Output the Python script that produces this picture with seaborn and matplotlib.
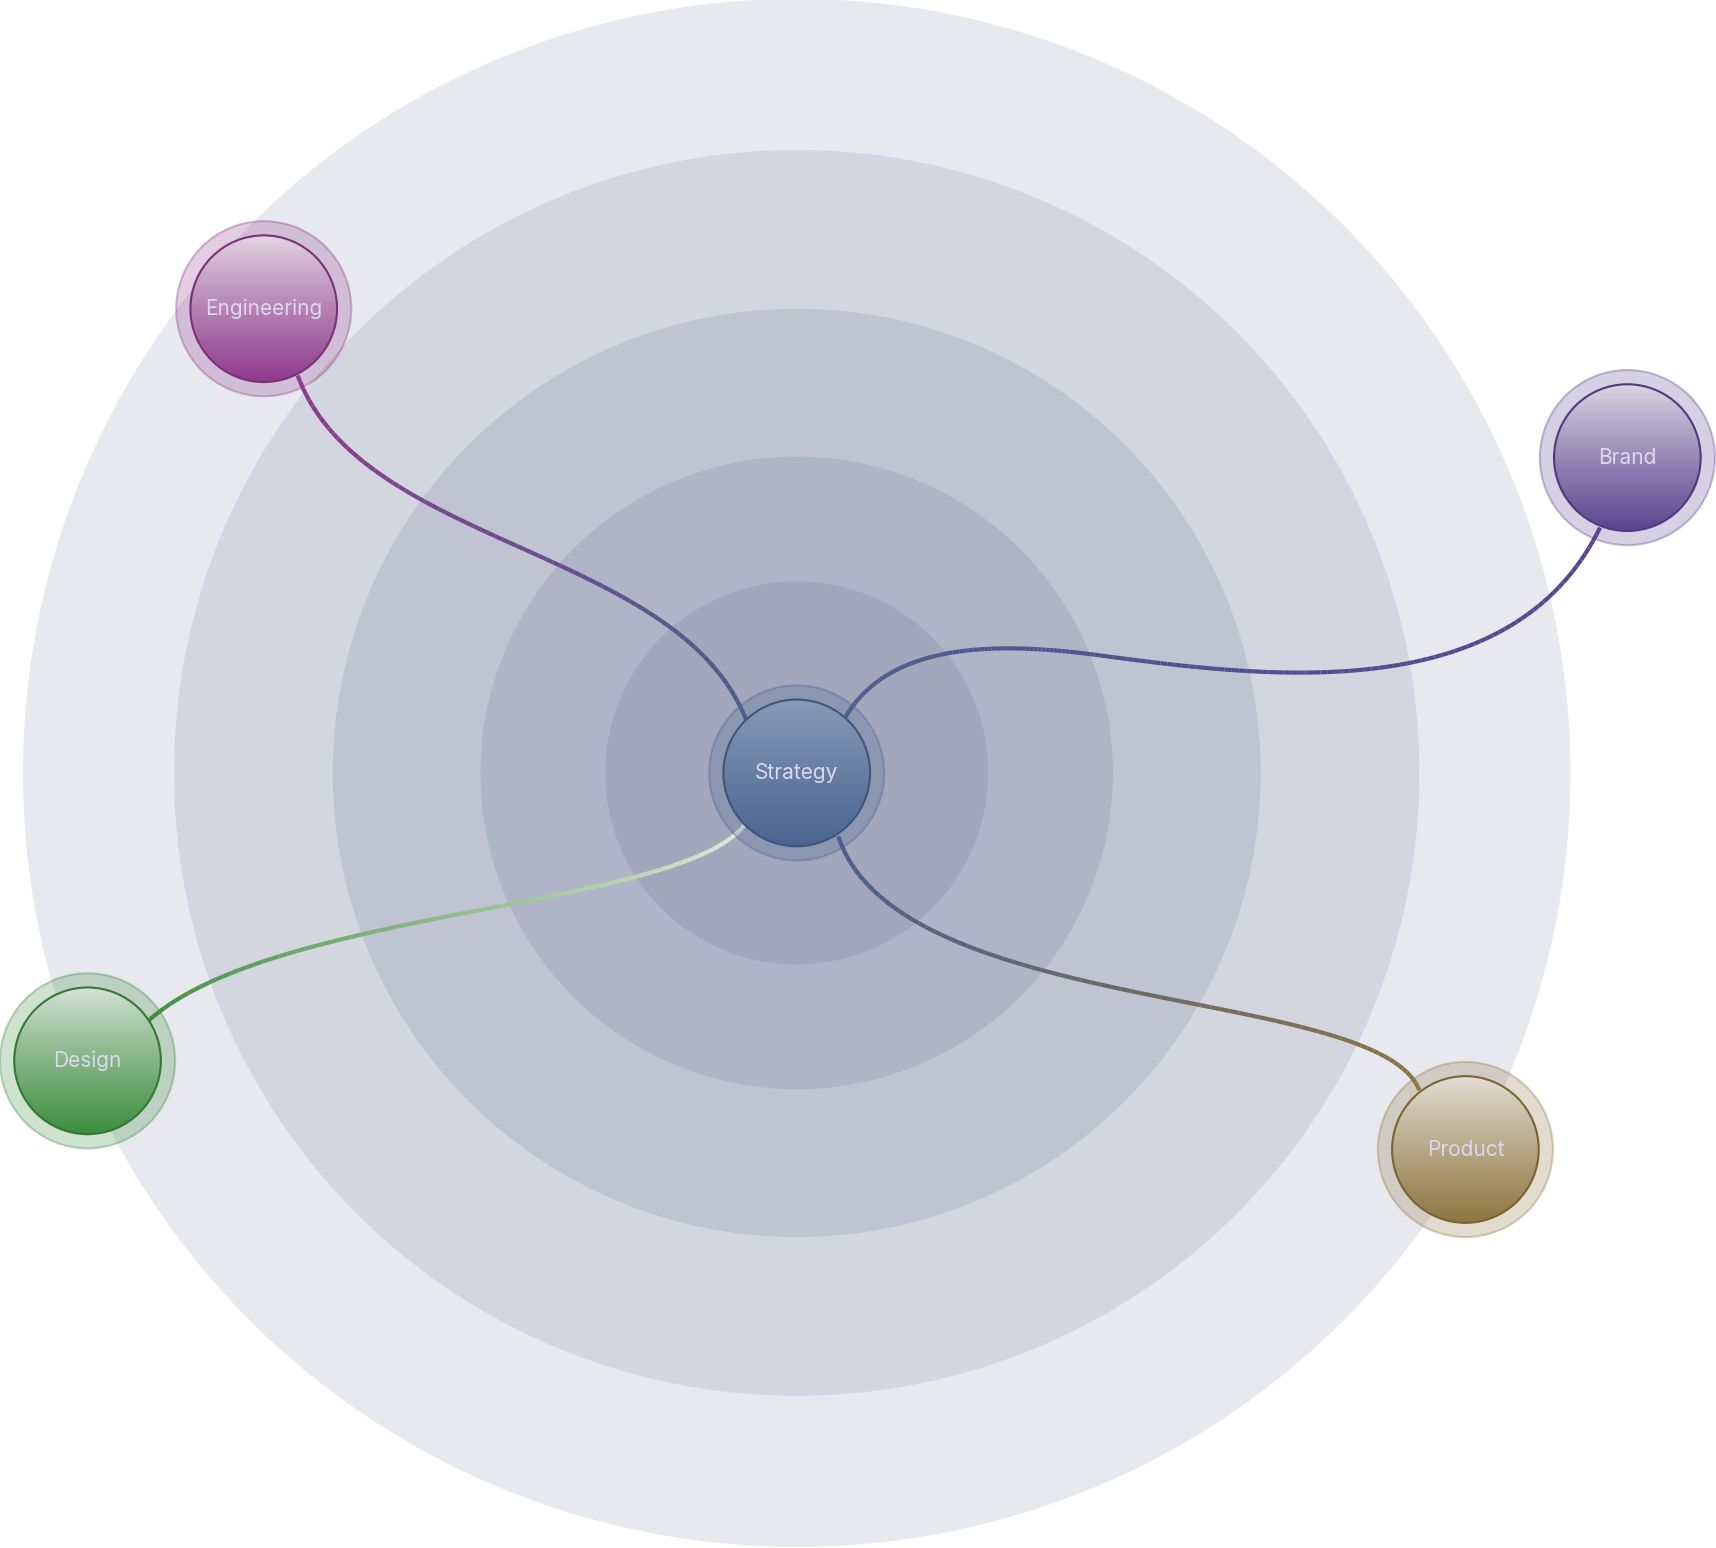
import numpy as np
import matplotlib.pyplot as plt
import seaborn as sns
from matplotlib.collections import LineCollection
from matplotlib.patches import Circle
from matplotlib.colors import to_rgb

sns.set_theme(style="white")
plt.rcParams['font.family'] = ['Inter', 'DejaVu Sans']

W, H = 1568, 1414
center = (728, 706)
ring_radii = [707, 569, 424, 289, 175]
ring_colors = ["#e8e9ef", "#d3d6df", "#c0c4d2", "#b0b4c7", "#a2a7bc"]

names = ["Strategy", "Engineering", "Brand", "Design", "Product"]
node_x = [728, 241, 1487, 80, 1339]
node_y = [706, 282, 418, 969, 1050]
node_colors = ["#4a6590", "#8e3a8c", "#5a4590", "#3d8d3e", "#8f7640"]
node_r = 67
halo_r = 80

# links: list of cubic segments (p0, p1, p2, p3) from Strategy to each node
links = {
    "Engineering": [[(682, 658), (620, 500), (330, 500), (272, 343)]],
    "Brand": [[(772, 656), (810, 590), (900, 585), (1000, 598)],
              [(1000, 598), (1150, 618), (1380, 650), (1462, 482)]],
    "Design": [[(680, 754), (620, 830), (250, 830), (136, 932)]],
    "Product": [[(766, 764), (820, 930), (1260, 900), (1297, 996)]],
}
link_start_colors = {"Engineering": "#4a5e8c", "Brand": "#4a5e8c",
                     "Design": "#e8f0e0", "Product": "#4a5e8c"}


def bezier(seg, n=80):
    t = np.linspace(0, 1, n)[:, None]
    p = [np.array(q, float) for q in seg]
    return (1-t)**3*p[0] + 3*(1-t)**2*t*p[1] + 3*(1-t)*t**2*p[2] + t**3*p[3]


fig = plt.figure(figsize=(17.16, 15.48), dpi=100)
ax = fig.add_axes([0, 0, 1, 1])
ax.set_xlim(0, W)
ax.set_ylim(H, 0)
ax.set_aspect("equal")
ax.axis("off")

for r, c in zip(ring_radii, ring_colors):
    ax.add_patch(Circle(center, r, color=c, lw=0, zorder=1))

for i, name in enumerate(names[1:], start=1):
    pts = np.vstack([bezier(s) for s in links[name]])
    segs = np.stack([pts[:-1], pts[1:]], axis=1)
    c0 = np.array(to_rgb(link_start_colors[name]))
    c1 = np.array(to_rgb(node_colors[i]))
    t = np.linspace(0, 1, len(segs))[:, None]
    cols = c0*(1-t) + c1*t
    ax.add_collection(LineCollection(segs, colors=cols, linewidths=3, zorder=2))

grad = np.linspace(0, 1, 256)[:, None]
for x, y, name, col in zip(node_x, node_y, names, node_colors):
    base = np.array(to_rgb(col))
    halo = Circle((x, y), halo_r, facecolor=(*base, 0.25), edgecolor=(*base, 0.35), lw=1.5, zorder=3)
    ax.add_patch(halo)
    if name == "Strategy":
        top = base*0.55 + 0.45*np.array([0.85, 0.87, 0.92])
    else:
        top = base*0.15 + 0.85*np.array([0.95, 0.95, 0.95])
    g = grad**0.9
    img = top[None, None, :]*(1-g[..., None]) + base[None, None, :]*g[..., None]
    img = np.repeat(img, 2, axis=1)
    im = ax.imshow(img, extent=(x-node_r, x+node_r, y+node_r, y-node_r), zorder=4, aspect="auto")
    clip = Circle((x, y), node_r, transform=ax.transData)
    im.set_clip_path(clip)
    ax.add_patch(Circle((x, y), node_r, facecolor="none", edgecolor=base*0.85, lw=1.5, zorder=5))
    ax.text(x, y, name, ha="center", va="center", fontsize=15, color="#dcd8f0", zorder=6)

ax.set_xlim(0, W)
ax.set_ylim(H, 0)
fig.savefig("out.png", dpi=100)
